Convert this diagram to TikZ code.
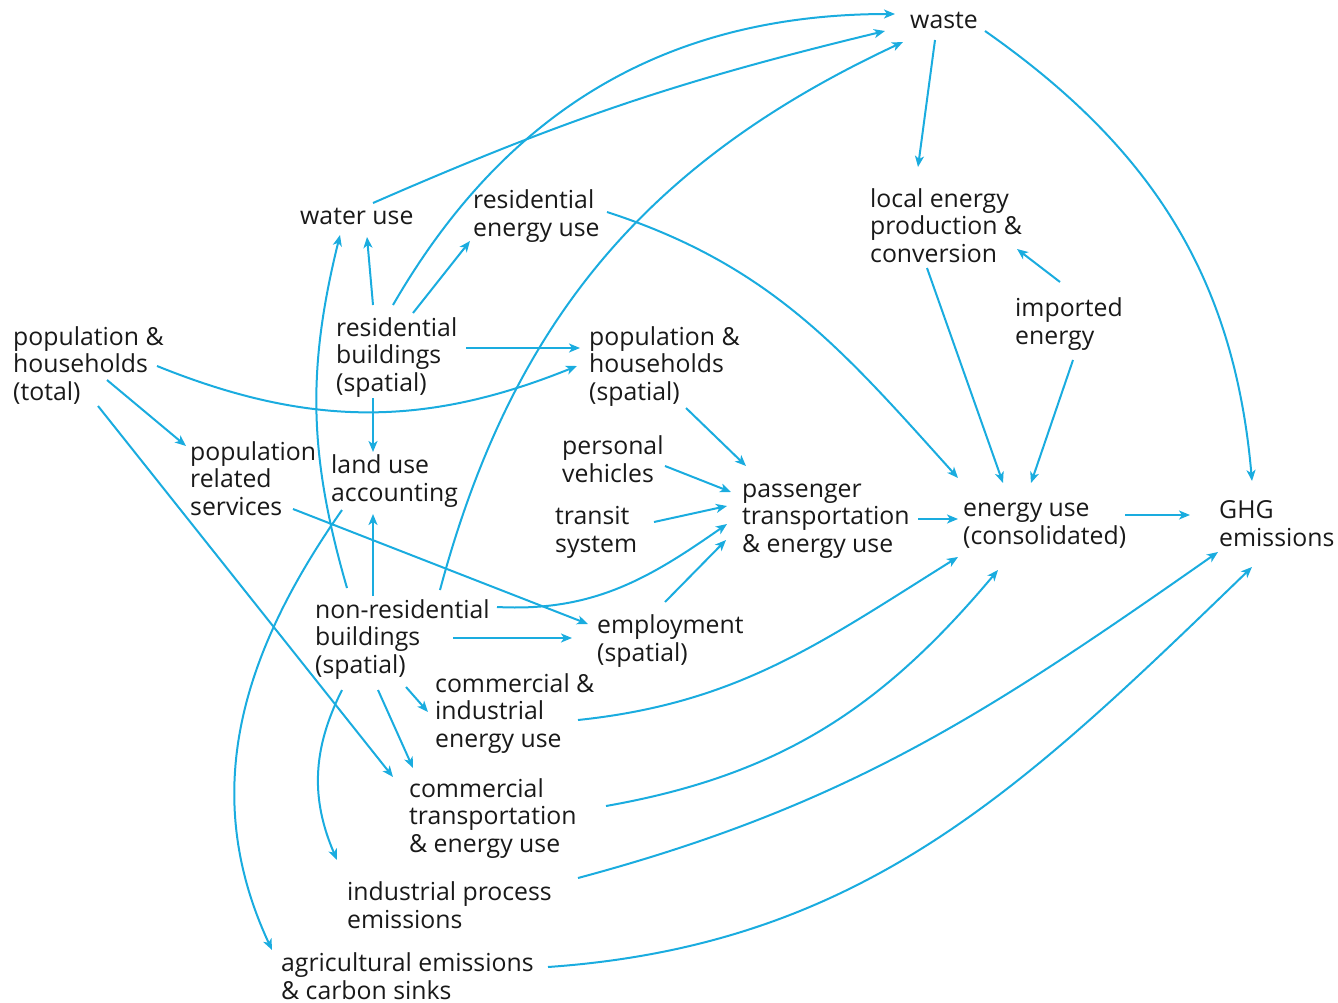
\documentclass[tikz,border=0pt]{standalone}
\usepackage{fontspec}
\setmainfont{Open Sans}
\usetikzlibrary{arrows.meta}
\definecolor{cy}{HTML}{1AACDF}
\newcommand\fs{\rule[-8.34pt]{0pt}{38.29pt}}
\newcommand\brk{\\\strut}
\begin{document}
\begin{tikzpicture}[x=1pt,y=1pt,
  lbl/.style={anchor=west,inner sep=0pt,align=left,text=black!90,
    font=\fontsize{24.8}{27.8}\selectfont},
  conn/.style={draw=cy,line width=2pt,-{Stealth[length=11pt,width=9pt,inset=3pt]}},
]
\useasboundingbox (0,0) rectangle (1338,-1003);

\node[lbl] (waste) at (910,-18) {\fs waste};
\node[lbl] (water) at (300,-214) {\fs water use};
\node[lbl] (reu) at (473,-212) {\fs residential\brk energy use};
\node[lbl] (lep) at (870,-224) {\fs local energy\brk production \&\brk conversion};
\node[lbl] (imp) at (1015,-320) {\fs imported\brk energy};
\node[lbl] (pht) at (13,-362) {\fs population \&\brk households\brk (total)};
\node[lbl] (rb) at (336,-353) {\fs residential\brk buildings\brk (spatial)};
\node[lbl] (phs) at (589,-362) {\fs population \&\brk households\brk (spatial)};
\node[lbl] (prs) at (190,-477) {\fs population\brk related\brk services};
\node[lbl] (lua) at (331,-477) {\fs land use\brk accounting};
\node[lbl] (pv) at (562,-458) {\fs personal\brk vehicles};
\node[lbl] (ts) at (555,-528) {\fs transit\brk system};
\node[lbl] (pte) at (742,-514) {\fs passenger\brk transportation\brk \& energy use};
\node[lbl] (euc) at (963,-520) {\fs energy use\brk (consolidated)};
\node[lbl] (ghg) at (1219,-522) {\fs GHG\brk emissions};
\node[lbl] (nrb) at (315,-635) {\fs non-residential\brk buildings\brk (spatial)};
\node[lbl] (emp) at (597,-637) {\fs employment\brk (spatial)};
\node[lbl] (cie) at (435,-709) {\fs commercial \&\brk industrial\brk energy use};
\node[lbl] (cte) at (409,-814) {\fs commercial\brk transportation\brk \& energy use};
\node[lbl] (ipe) at (347,-904) {\fs industrial process\brk emissions};
\node[lbl] (aes) at (281,-975) {\fs agricultural emissions\brk \& carbon sinks};

% to water use / waste
\draw[conn] ([shift={(37,48)}]rb.west) -- ([shift={(67,-23)}]water.west);
\draw[conn] ([shift={(32,47)}]nrb.west) to[bend left=15] ([shift={(40,-21)}]water.west);
\draw[conn] ([shift={(57,48)}]rb.west) to[out=60,in=180] ([shift={(-15,4)}]waste.west);
\draw[conn] ([shift={(73,11)}]water.west) to[bend left=5] ([shift={(-25,-13)}]waste.west);
\draw[conn] ([shift={(125,45)}]nrb.west) to[out=75,in=205] ([shift={(-7,-24)}]waste.west);
% residential buildings
\draw[conn] ([shift={(77,40)}]rb.west) -- ([shift={(-3,-29)}]reu.west);
\draw[conn] ([shift={(130,5)}]rb.west) -- ([shift={(-9,14)}]phs.west);
\draw[conn] ([shift={(144,-4)}]pht.west) to[bend right=22] ([shift={(-12,-4)}]phs.west);
\draw[conn] ([shift={(37,-45)}]rb.west) -- ([shift={(42,25)}]lua.west);
\draw[conn] ([shift={(58,39)}]nrb.west) -- ([shift={(42,-37)}]lua.west);
% population total
\draw[conn] ([shift={(94,-18)}]pht.west) -- ([shift={(-4,31)}]prs.west);
\draw[conn] ([shift={(85,-44)}]pht.west) -- ([shift={(-16,37)}]cte.west);
\draw[conn] ([shift={(103,-32)}]prs.west) -- ([shift={(-9,13)}]emp.west);
\draw[conn] ([shift={(11,-33)}]lua.west) to[out=235,in=115] ([shift={(-9,25)}]aes.west);
% passenger transportation
\draw[conn] ([shift={(182,28)}]nrb.west) to[out=-3,in=215] ([shift={(-15,-10)}]pte.west);
\draw[conn] ([shift={(68,35)}]emp.west) -- ([shift={(-16,-26)}]pte.west);
\draw[conn] ([shift={(103,-8)}]pv.west) -- ([shift={(-11,22)}]pte.west);
\draw[conn] ([shift={(99,6)}]ts.west) -- ([shift={(-15,8)}]pte.west);
\draw[conn] ([shift={(97,-46)}]phs.west) -- ([shift={(4,48)}]pte.west);
% non-residential buildings
\draw[conn] ([shift={(138,-3)}]nrb.west) -- ([shift={(-25,-1)}]emp.west);
\draw[conn] ([shift={(91,-52)}]nrb.west) -- ([shift={(-7,-3)}]cie.west);
\draw[conn] ([shift={(63,-55)}]nrb.west) -- ([shift={(4,46)}]cte.west);
\draw[conn] ([shift={(27,-55)}]nrb.west) to[bend right=25] ([shift={(-10,44)}]ipe.west);
% energy use consolidated
\draw[conn] ([shift={(134,0)}]reu.west) to[out=-18,in=132] ([shift={(-5,42)}]euc.west);
\draw[conn] ([shift={(57,-44)}]lep.west) -- ([shift={(40,37)}]euc.west);
\draw[conn] ([shift={(58,-40)}]imp.west) -- ([shift={(68,37)}]euc.west);
\draw[conn] ([shift={(45,38)}]imp.west) -- ([shift={(147,-25)}]lep.west);
\draw[conn] ([shift={(25,-22)}]waste.west) -- ([shift={(48,57)}]lep.west);
\draw[conn] ([shift={(75,-13)}]waste.west) to[out=-35,in=95] ([shift={(33,41)}]ghg.west);
\draw[conn] ([shift={(176,-5)}]pte.west) -- ([shift={(-5,1)}]euc.west);
\draw[conn] ([shift={(162,5)}]euc.west) -- ([shift={(-29,7)}]ghg.west);
\draw[conn] ([shift={(143,-11)}]cie.west) to[out=6,in=212] ([shift={(-5,-37)}]euc.west);
\draw[conn] ([shift={(197,8)}]cte.west) to[out=10,in=230] ([shift={(35,-50)}]euc.west);
\draw[conn] ([shift={(231,26)}]ipe.west) to[out=15,in=215] ([shift={(-1,-30)}]ghg.west);
\draw[conn] ([shift={(267,8)}]aes.west) to[out=4,in=224] ([shift={(33,-45)}]ghg.west);
\end{tikzpicture}
\end{document}
